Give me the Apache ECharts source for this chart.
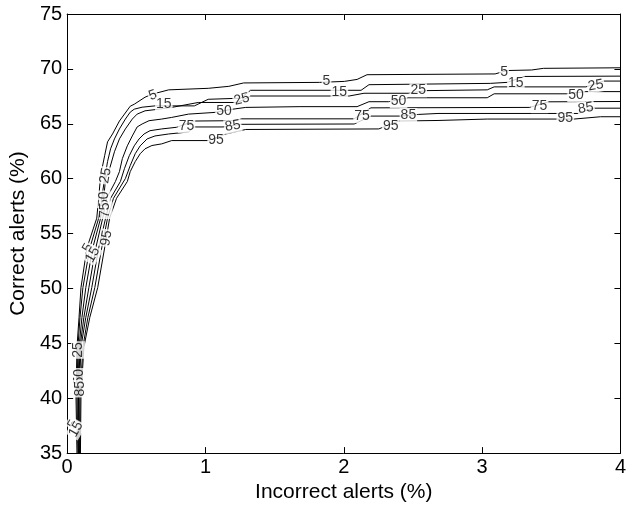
<!DOCTYPE html>
<html><head><meta charset="utf-8">
<script src="https://cdn.jsdelivr.net/npm/echarts@6/dist/echarts.min.js"></script>
<style>html,body{margin:0;padding:0;background:#fff}#c{width:629px;height:508px}</style>
</head><body><div id="c"></div>
<script>
const levels = ['5','15','25','50','75','85','95'];
const xTicks = [0,1,2,3,4];
const yTicks = [35,40,45,50,55,60,65,70,75];

const line5 = [[4.0,70.10],[3.444,70.05],[3.358,69.90],[3.180,69.85],[3.094,69.54],[2.168,69.47],[2.096,69.04],[2.004,68.86],[1.825,68.77],[1.276,68.72],[1.169,68.41],[1.020,68.23],[0.734,68.09],[0.613,67.69],[0.563,67.42],[0.485,66.78],[0.456,66.60],[0.378,65.25],[0.328,64.07],[0.292,63.35],[0.271,62.09],[0.242,60.28],[0.228,58.21],[0.214,56.40],[0.143,53.69],[0.100,50.08],[0.086,47.37],[0.071,44.66],[0.064,40.15],[0.071,35.0]];
const line15 = [[4.0,69.34],[3.308,69.31],[3.180,68.77],[3.059,68.68],[2.182,68.56],[2.125,68.05],[1.326,68.05],[1.255,67.33],[1.020,67.23],[0.920,66.63],[0.635,66.63],[0.542,66.51],[0.485,66.33],[0.456,66.06],[0.421,65.43],[0.378,64.53],[0.342,63.62],[0.314,62.72],[0.292,61.55],[0.271,60.01],[0.250,58.21],[0.228,56.40],[0.164,53.69],[0.114,50.08],[0.093,47.37],[0.078,44.66],[0.071,40.15],[0.078,35.0]];
const line25 = [[4.0,68.89],[3.879,68.89],[3.750,68.36],[3.087,68.36],[3.037,68.09],[2.595,68.02],[2.467,67.78],[2.146,67.78],[2.039,67.53],[1.326,67.53],[1.234,66.94],[0.948,66.94],[0.756,66.49],[0.663,66.33],[0.563,66.18],[0.506,65.88],[0.471,65.43],[0.421,64.53],[0.378,63.62],[0.342,62.45],[0.307,60.91],[0.278,60.01],[0.264,58.21],[0.242,56.40],[0.185,53.69],[0.135,50.08],[0.107,47.37],[0.086,44.66],[0.078,40.15],[0.082,35.0]];
const line50 = [[4.0,67.93],[3.750,67.93],[3.608,67.73],[3.087,67.73],[3.037,67.37],[2.467,67.37],[2.324,67.01],[2.182,67.01],[2.096,66.56],[1.683,66.56],[1.291,66.49],[1.198,66.33],[1.062,66.03],[0.877,65.88],[0.756,65.58],[0.684,65.43],[0.592,65.28],[0.542,64.98],[0.506,64.71],[0.471,63.89],[0.435,62.99],[0.399,61.82],[0.378,60.64],[0.349,59.74],[0.285,58.21],[0.257,56.40],[0.207,53.69],[0.157,50.08],[0.121,47.37],[0.093,44.66],[0.082,40.15],[0.086,35.0]];
const line75 = [[4.0,67.03],[3.480,67.00],[3.344,66.49],[2.196,66.45],[2.075,65.45],[1.260,65.45],[1.200,65.28],[0.920,65.25],[0.791,64.68],[0.684,64.53],[0.599,64.37],[0.556,64.07],[0.520,63.62],[0.485,62.99],[0.449,62.09],[0.414,60.91],[0.385,59.74],[0.314,58.21],[0.278,56.40],[0.228,53.69],[0.178,50.08],[0.135,47.37],[0.100,44.66],[0.086,40.15],[0.089,35.0]];
const line85 = [[4.0,66.42],[3.800,66.42],[3.693,65.94],[2.681,65.94],[2.538,65.85],[2.410,65.70],[2.196,65.70],[2.075,64.98],[1.255,64.95],[1.127,64.71],[0.920,64.71],[0.877,64.25],[0.734,64.07],[0.635,63.89],[0.578,63.62],[0.528,62.99],[0.492,62.27],[0.456,61.19],[0.421,60.01],[0.335,58.21],[0.292,56.40],[0.250,53.69],[0.200,50.08],[0.150,47.37],[0.114,44.66],[0.093,40.15],[0.093,35.0]];
const line95 = [[4.0,65.64],[3.857,65.64],[3.665,65.43],[3.037,65.43],[2.681,65.30],[2.396,65.25],[2.253,64.53],[1.291,64.48],[1.148,64.07],[1.020,63.47],[0.756,63.47],[0.684,63.17],[0.613,63.02],[0.563,62.72],[0.528,62.27],[0.492,61.55],[0.456,60.64],[0.435,59.74],[0.357,58.21],[0.307,56.40],[0.271,53.69],[0.221,50.08],[0.164,47.37],[0.121,44.66],[0.100,40.15],[0.096,35.0]];

// contour labels: [text, x, y, rotation]
const labelPoints = [
  ['5',0.620,67.60,20],['5',1.875,68.86,0],['5',3.159,69.67,0],
  ['15',0.699,66.78,0],['15',1.968,67.87,0],['15',3.244,68.68,0],
  ['25',1.262,67.23,15],['25',2.538,68.05,0],['25',3.822,68.50,10],
  ['50',1.134,66.15,0],['50',2.396,67.05,0],['50',3.679,67.60,0],
  ['75',0.863,64.80,0],['75',2.132,65.70,0],['75',3.415,66.60,0],
  ['85',1.198,64.80,10],['85',2.467,65.79,0],['85',3.750,66.42,10],
  ['95',1.077,63.53,0],['95',2.339,64.80,0],['95',3.601,65.52,0],
  ['25',0.278,60.28,80],['50',0.264,58.12,90],['75',0.278,57.12,90],
  ['5',0.150,53.69,60],['15',0.185,53.06,60],['95',0.285,54.59,80],
  ['25',0.078,44.39,90],['50',0.086,41.95,90],['85',0.093,40.87,90],
  ['5',0.043,37.62,60],['15',0.064,37.17,60]
];

const lines = [line5, line15, line25, line50, line75, line85, line95];
const FONT = '"Liberation Sans", Arial, sans-serif';

const chart = echarts.init(document.getElementById('c'), null, {renderer:'canvas'});
const axisCommon = {
  type:'value',
  axisLine:{show:true, onZero:false, lineStyle:{color:'#000', width:1}},
  axisTick:{show:true, inside:true, length:6, lineStyle:{color:'#000', width:1}},
  splitLine:{show:false}
};
const series = levels.map((lv,i)=>({
  type:'line', name:lv, data:lines[i], showSymbol:false, symbol:'none',
  lineStyle:{color:'#000', width:1}, silent:true, z:2, animation:false
}));
series.push({
  type:'scatter', symbolSize:1, itemStyle:{color:'rgba(0,0,0,0)'}, z:5, animation:false, silent:true,
  data: labelPoints.map(p=>({value:[p[1],p[2]], name:p[0], label:{rotate:p[3]}})),
  label:{show:true, position:'inside', formatter:'{b}', color:'#000', fontSize:14, fontFamily:FONT,
         backgroundColor:'#fff', padding:[0,1]}
});
chart.setOption({
  animation:false,
  backgroundColor:'#fff',
  grid:{left:64, right:4, top:14, bottom:51},
  xAxis:[
    Object.assign({}, axisCommon, {min:xTicks[0], max:xTicks[xTicks.length-1], interval:1, position:'bottom',
      axisLabel:{color:'#000', fontSize:20, fontFamily:FONT, margin:4},
      name:'Incorrect alerts (%)', nameLocation:'middle', nameGap:26,
      nameTextStyle:{color:'#000', fontSize:21, fontFamily:FONT}}),
    Object.assign({}, axisCommon, {min:xTicks[0], max:xTicks[xTicks.length-1], interval:1, position:'top',
      axisLabel:{show:false}})
  ],
  yAxis:[
    Object.assign({}, axisCommon, {min:yTicks[0], max:yTicks[yTicks.length-1], interval:5, position:'left',
      axisLabel:{color:'#000', fontSize:20, fontFamily:FONT, margin:5},
      name:'Correct alerts (%)', nameLocation:'middle', nameGap:29,
      nameTextStyle:{color:'#000', fontSize:21, fontFamily:FONT}}),
    Object.assign({}, axisCommon, {min:yTicks[0], max:yTicks[yTicks.length-1], interval:5, position:'right',
      axisLabel:{show:false}})
  ],
  series: series
});
</script></body></html>
